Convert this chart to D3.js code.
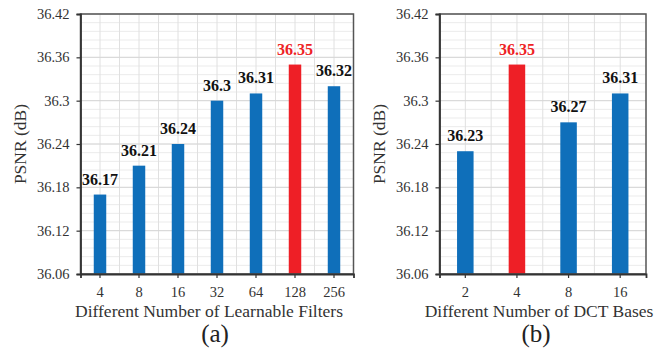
<!DOCTYPE html>
<html>
<head>
<meta charset="utf-8">
<script src="https://cdn.jsdelivr.net/npm/d3@7"></script>
<style>
  body { margin: 0; background: #fff; }
</style>
</head>
<body>
<svg id="chart" width="654" height="356"></svg>
<script>
// data
var yTicks = [36.06, 36.12, 36.18, 36.24, 36.3, 36.36, 36.42];
var filterCats = ['4', '8', '16', '32', '64', '128', '256'];
var filterPsnr = [36.17, 36.21, 36.24, 36.3, 36.31, 36.35, 36.32];
var dctCats = ['2', '4', '8', '16'];
var dctPsnr = [36.23, 36.35, 36.27, 36.31];

var BLUE = '#0f6fba';
var RED = '#ee1f26';
var FONT = 'Liberation Serif, Times New Roman, serif';

var svg = d3.select('#chart');

// one panel of the figure
function drawPanel(opt) {
  var top = 14, bottom = 274;
  var g = svg.append('g');

  var x = d3.scaleBand().domain(opt.cats).range([opt.left, opt.right]);
  var y = d3.scaleLinear().domain([yTicks[0], yTicks[yTicks.length - 1]]).range([bottom, top]);
  var band = x.bandwidth();

  // minor horizontal grid
  g.selectAll('.minor')
    .data(d3.range(yTicks[0], yTicks[yTicks.length - 1] + 1e-9, 0.012))
    .enter().append('line')
    .attr('x1', opt.left).attr('x2', opt.right)
    .attr('y1', function(d) { return y(d); })
    .attr('y2', function(d) { return y(d); })
    .attr('stroke', '#ebebeb').attr('stroke-width', 1);

  // vertical grid: centres and boundaries
  var vx = d3.range(1, opt.cats.length * 2).map(function(k) { return opt.left + k * band / 2; });
  g.selectAll('.vgrid')
    .data(vx).enter().append('line')
    .attr('x1', function(d) { return d; }).attr('x2', function(d) { return d; })
    .attr('y1', top).attr('y2', bottom)
    .attr('stroke', '#e0e0e0').attr('stroke-width', 1);

  // major horizontal grid
  g.selectAll('.major')
    .data(yTicks).enter().append('line')
    .attr('x1', opt.left).attr('x2', opt.right)
    .attr('y1', function(d) { return y(d); })
    .attr('y2', function(d) { return y(d); })
    .attr('stroke', '#d6d6d6').attr('stroke-width', 1);

  // bars
  var bw = band * 0.32;
  g.selectAll('.bar')
    .data(opt.vals).enter().append('rect')
    .attr('x', function(d, i) { return x(opt.cats[i]) + (band - bw) / 2; })
    .attr('y', function(d) { return y(d); })
    .attr('width', bw)
    .attr('height', function(d) { return bottom - y(d); })
    .attr('fill', function(d, i) { return opt.cats[i] === opt.best ? RED : BLUE; });

  // value labels
  g.selectAll('.val')
    .data(opt.vals).enter().append('text')
    .attr('x', function(d, i) { return x(opt.cats[i]) + band / 2; })
    .attr('y', function(d) { return y(d) - 10; })
    .attr('text-anchor', 'middle')
    .attr('font-size', 16).attr('font-weight', 'bold')
    .attr('fill', function(d, i) { return opt.cats[i] === opt.best ? RED : '#111'; })
    .text(function(d) { return String(d); });

  // frame
  g.append('rect')
    .attr('x', opt.left).attr('y', top)
    .attr('width', opt.right - opt.left).attr('height', bottom - top)
    .attr('fill', 'none').attr('stroke', '#555').attr('stroke-width', 1.5);

  // axes
  var yAxis = d3.axisLeft(y).tickValues(yTicks).tickSize(4).tickPadding(7)
    .tickFormat(function(d) { return String(d); });
  var ya = g.append('g').attr('transform', 'translate(' + opt.left + ',0)').call(yAxis);
  ya.select('.domain').attr('stroke', '#333').attr('stroke-width', 1.8);
  ya.selectAll('.tick line').attr('stroke', '#333').attr('stroke-width', 1.2);
  ya.selectAll('.tick text').attr('font-size', 14.5).attr('fill', '#333');

  var xAxis = d3.axisBottom(x).tickSize(4).tickPadding(9);
  var xa = g.append('g').attr('transform', 'translate(0,' + bottom + ')').call(xAxis);
  xa.select('.domain').attr('stroke', '#333').attr('stroke-width', 1.8);
  xa.selectAll('.tick line').attr('stroke', '#333').attr('stroke-width', 1.2);
  xa.selectAll('.tick text').attr('font-size', 14.5).attr('fill', '#333');

  // axis titles
  g.append('text')
    .attr('transform', 'translate(' + (opt.left - 55) + ',' + ((top + bottom) / 2) + ') rotate(-90)')
    .attr('text-anchor', 'middle')
    .attr('font-size', 17.5).attr('fill', '#333')
    .text('PSNR (dB)');

  g.append('text')
    .attr('x', opt.titleX).attr('y', 317)
    .attr('text-anchor', 'middle')
    .attr('font-size', 17.5).attr('fill', '#333')
    .text(opt.title);

  g.append('text')
    .attr('x', opt.tagX).attr('y', 342)
    .attr('text-anchor', 'middle')
    .attr('font-size', 25).attr('fill', '#222')
    .text(opt.tag);
}

drawPanel({ cats: filterCats, vals: filterPsnr, best: '128', left: 80.5, right: 353.5,
  title: 'Different Number of Learnable Filters', titleX: 209, tag: '(a)', tagX: 215 });

drawPanel({ cats: dctCats, vals: dctPsnr, best: '4', left: 439.5, right: 646,
  title: 'Different Number of DCT Bases', titleX: 539, tag: '(b)', tagX: 536 });

// every text in the serif face of the figure
svg.selectAll('text').attr('font-family', FONT);
</script>
</body>
</html>
